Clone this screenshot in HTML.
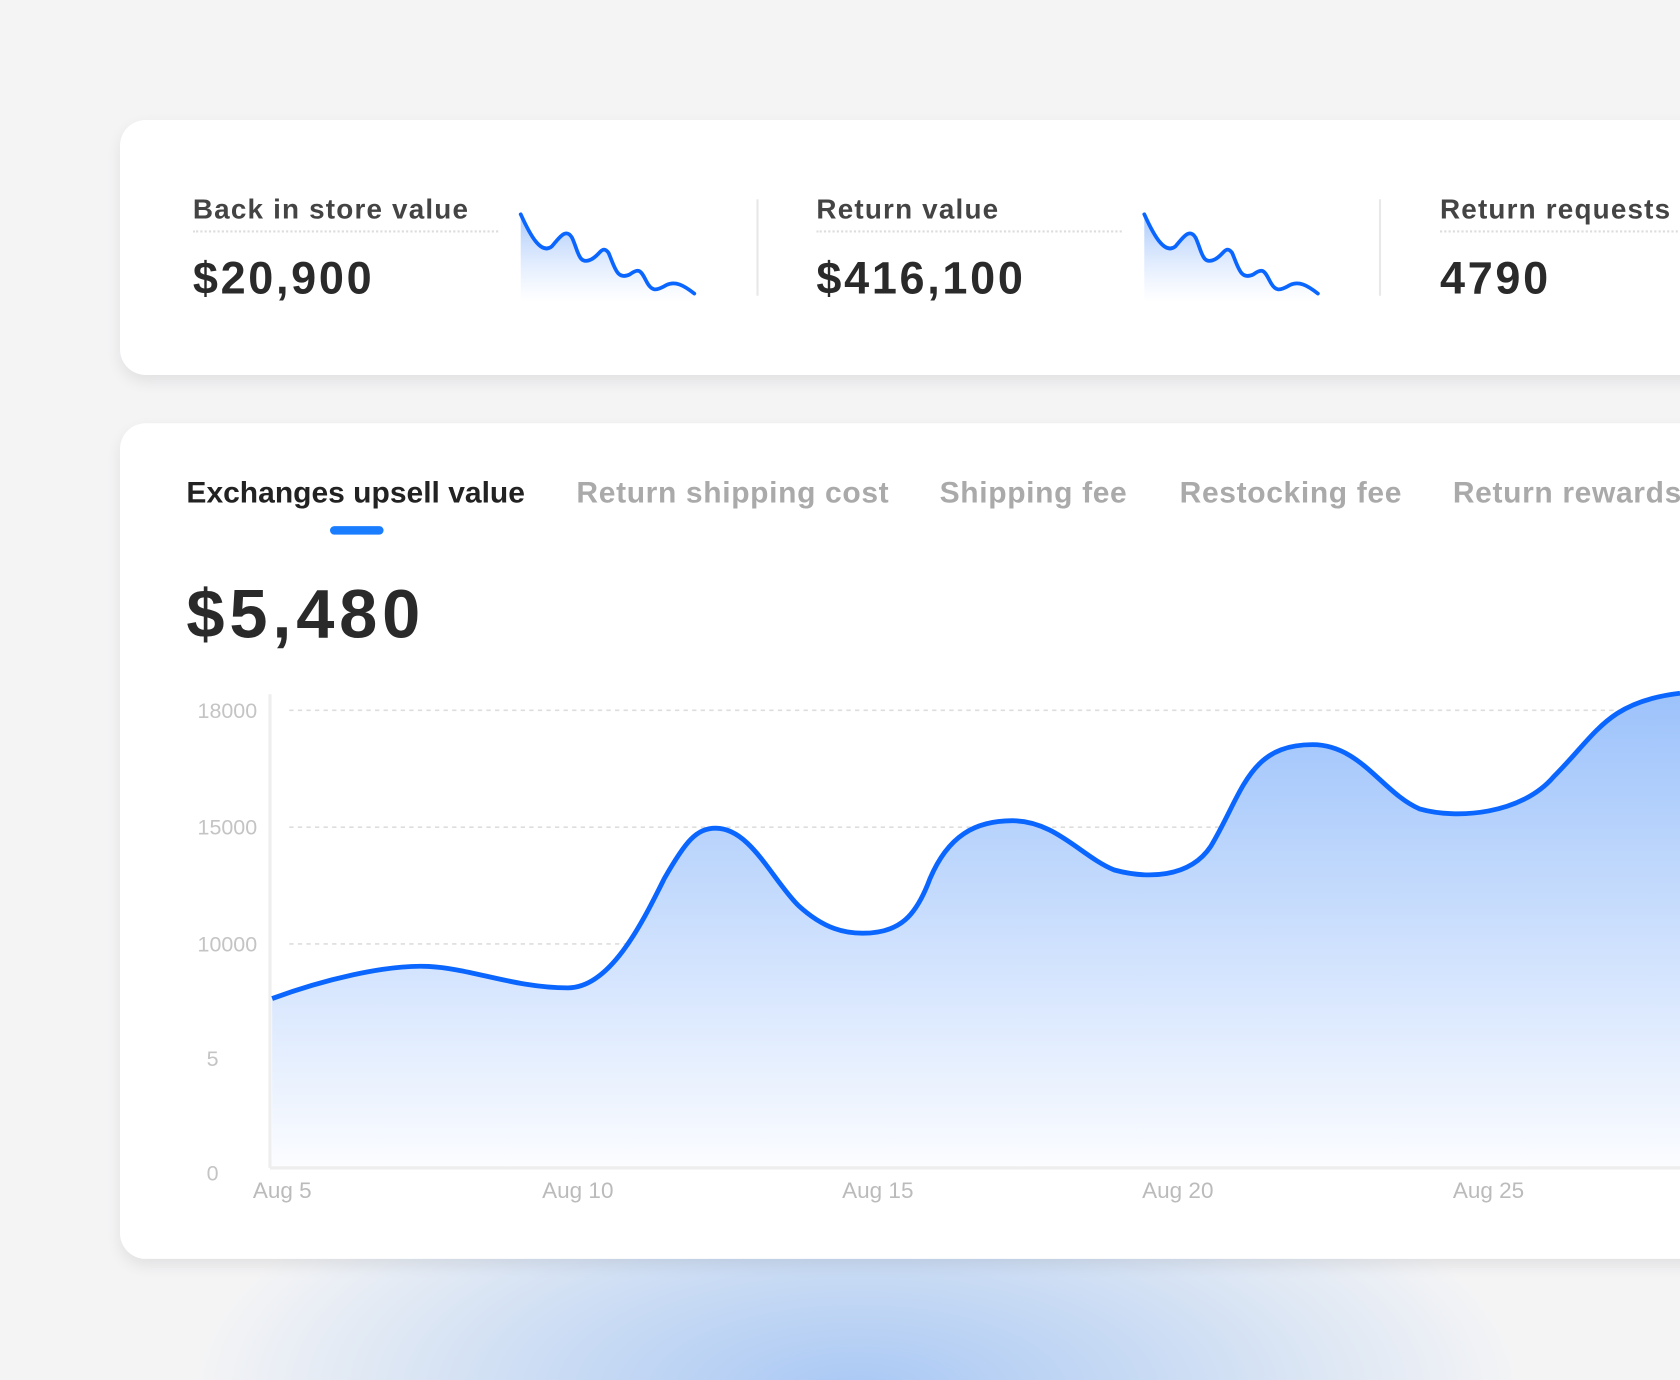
<!DOCTYPE html>
<html><head><meta charset="utf-8"><style>
html,body{margin:0;padding:0;width:1680px;height:1380px;overflow:hidden;background:#f4f4f5;}
#wrap{position:absolute;left:0;top:0;width:1568px;height:1288px;transform:scale(1.0714286);transform-origin:0 0;font-family:"Liberation Sans",sans-serif;
background:radial-gradient(ellipse 620px 260px at 800px 1300px,#a9c8f5 0%,#c9dbf4 45%,rgba(244,244,245,0) 100%),#f4f4f5;}
.card{position:absolute;left:112px;width:1500px;background:#fff;border-radius:24px;box-shadow:0 6px 14px rgba(0,0,0,0.08);}
.lbl{position:absolute;font-size:26px;color:#444;font-weight:bold;letter-spacing:1.1px;white-space:nowrap;}
.dot{position:absolute;height:0;border-top:2px dotted #ddd;}
.val{position:absolute;font-size:42px;font-weight:bold;color:#2a2a2a;letter-spacing:2.5px;}
.div{position:absolute;width:2px;background:#e8e8e8;top:186px;height:90px;}
.tab{position:absolute;top:444px;font-size:28px;font-weight:bold;color:#aaa;white-space:nowrap;letter-spacing:0.6px;}
.yl{position:absolute;font-size:20px;color:#c4c4c4;text-align:right;width:80px;}
.xl{position:absolute;font-size:21px;color:#bbb;top:1100px;}
</style></head><body><div id="wrap">
<div class="card" style="top:112px;height:238px;"></div>
<div class="card" style="top:395px;height:780px;"></div>

<div class="lbl" style="left:180px;top:180px;">Back in store value</div>
<div class="dot" style="left:180px;top:215px;width:285px;"></div>
<div class="val" style="left:180px;top:236px;">$20,900</div>
<div class="div" style="left:706px;"></div>
<div class="lbl" style="left:762px;top:180px;">Return value</div>
<div class="dot" style="left:762px;top:215px;width:285px;"></div>
<div class="val" style="left:762px;top:236px;">$416,100</div>
<div class="div" style="left:1287px;"></div>
<div class="lbl" style="left:1344px;top:180px;">Return requests</div>
<div class="dot" style="left:1344px;top:215px;width:230px;"></div>
<div class="val" style="left:1344px;top:236px;">4790</div>

<svg style="position:absolute;left:0;top:0" width="1568" height="1288">
<defs>
<linearGradient id="sg" x1="0" y1="0" x2="0" y2="1"><stop offset="0" stop-color="#a9c9fb"/><stop offset="1" stop-color="#fff" stop-opacity="0.6"/></linearGradient>
<linearGradient id="bg" x1="0" y1="0" x2="0" y2="1"><stop offset="0" stop-color="#9cc2fb"/><stop offset="1" stop-color="#fbfcff"/></linearGradient>
<g id="sp">
<path d="M486,200 C495,220 505,238 515,230 C522,222 528,212 534,222 C540,235 540,248 552,242 C560,238 562,228 568,236 C574,250 576,262 588,256 C596,250 598,252 603,262 C608,272 612,272 622,266 C630,262 638,266 648,274 L648,282 L486,282Z" fill="url(#sg)"/>
<path d="M486,200 C495,220 505,238 515,230 C522,222 528,212 534,222 C540,235 540,248 552,242 C560,238 562,228 568,236 C574,250 576,262 588,256 C596,250 598,252 603,262 C608,272 612,272 622,266 C630,262 638,266 648,274" fill="none" stroke="#0a66ff" stroke-width="3.5" stroke-linecap="round"/>
</g>
</defs>
<use href="#sp"/>
<use href="#sp" transform="translate(582,0)"/>
<g stroke="#ddd" stroke-width="1.5" stroke-dasharray="4,4">
<line x1="270" y1="663" x2="1568" y2="663"/><line x1="270" y1="772" x2="1568" y2="772"/>
<line x1="270" y1="881" x2="1568" y2="881"/><line x1="270" y1="988" x2="1568" y2="988"/>
</g>
<line x1="252" y1="648" x2="252" y2="1090" stroke="#eee" stroke-width="3"/>
<line x1="252" y1="1090" x2="1568" y2="1090" stroke="#eee" stroke-width="3"/>
<path d="M254,932 C300,915 360,900 400,902 C440,904 480,922 530,922 C570,922 600,860 620,820 C640,785 650,773 668,773 C700,773 720,820 745,845 C770,868 790,871 805,871 C840,871 855,855 868,820 C885,780 910,766 945,766 C985,766 1010,800 1040,812 C1070,820 1110,820 1130,790 C1160,740 1165,695 1225,695 C1270,695 1290,740 1325,755 C1360,765 1420,760 1450,725 C1490,685 1500,655 1568,647 L1568,1088 L254,1088Z" fill="url(#bg)"/>
<path d="M254,932 C300,915 360,900 400,902 C440,904 480,922 530,922 C570,922 600,860 620,820 C640,785 650,773 668,773 C700,773 720,820 745,845 C770,868 790,871 805,871 C840,871 855,855 868,820 C885,780 910,766 945,766 C985,766 1010,800 1040,812 C1070,820 1110,820 1130,790 C1160,740 1165,695 1225,695 C1270,695 1290,740 1325,755 C1360,765 1420,760 1450,725 C1490,685 1500,655 1568,647" fill="none" stroke="#0a66ff" stroke-width="4.5"/>
<rect x="308" y="491" width="50" height="8" rx="4" fill="#1a7dff"/>
</svg>

<div class="tab" style="left:174px;color:#222;letter-spacing:0;">Exchanges upsell value</div>
<div class="tab" style="left:538px;">Return shipping cost</div>
<div class="tab" style="left:877px;">Shipping fee</div>
<div class="tab" style="left:1101px;">Restocking fee</div>
<div class="tab" style="left:1356px;">Return rewards</div>
<div style="position:absolute;left:174px;top:536px;font-size:64px;font-weight:bold;color:#2a2a2a;letter-spacing:4.5px;">$5,480</div>

<div class="yl" style="left:160px;top:653px;">18000</div>
<div class="yl" style="left:160px;top:762px;">15000</div>
<div class="yl" style="left:160px;top:871px;">10000</div>
<div class="yl" style="left:124px;top:978px;">5</div>
<div class="yl" style="left:124px;top:1085px;">0</div>
<div class="xl" style="left:236px;">Aug 5</div>
<div class="xl" style="left:506px;">Aug 10</div>
<div class="xl" style="left:786px;">Aug 15</div>
<div class="xl" style="left:1066px;">Aug 20</div>
<div class="xl" style="left:1356px;">Aug 25</div>
</div></body></html>
